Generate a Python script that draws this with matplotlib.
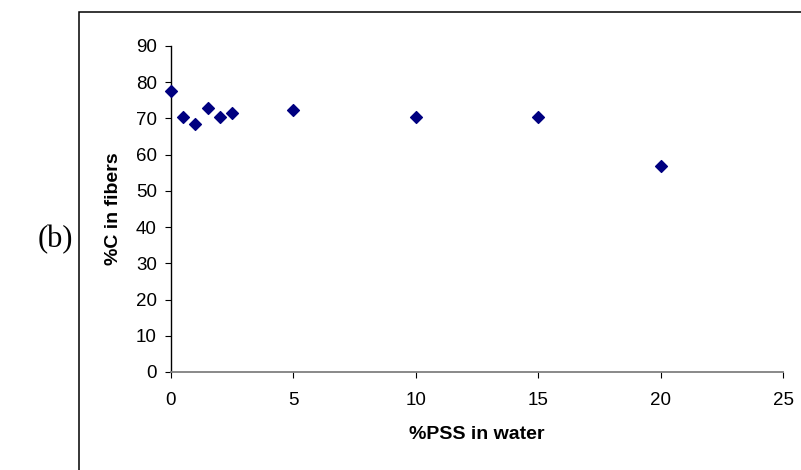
import matplotlib.pyplot as plt
from matplotlib.patches import Rectangle

# %PSS in water vs %C in fibers
pss = [0, 0.5, 1, 1.5, 2, 2.5, 5, 10, 15, 20]
carbon = [77.7, 70.3, 68.6, 73.0, 70.3, 71.6, 72.4, 70.3, 70.3, 57.0]
xticks = [0, 5, 10, 15, 20, 25]
yticks = [0, 10, 20, 30, 40, 50, 60, 70, 80, 90]

fig = plt.figure(figsize=(8.01, 4.70), dpi=100)
ax = fig.add_axes([171 / 801, 1 - 372 / 470, (783 - 171) / 801, (372 - 46) / 470])

ax.scatter(pss, carbon, marker='D', s=6.0 ** 2, color='#000080', zorder=3, clip_on=False)

ax.set_xlim(0, 25)
ax.set_ylim(0, 90)
ax.set_xticks(xticks)
ax.set_yticks(yticks)

for side in ['top', 'right']:
    ax.spines[side].set_visible(False)
ax.spines['left'].set_color('black')
ax.spines['left'].set_linewidth(1.0)
ax.spines['bottom'].set_color('#808080')
ax.spines['bottom'].set_linewidth(1.3)

ax.tick_params(axis='y', direction='out', length=4.3, width=0.8, pad=5.8,
               labelsize=13.5, colors='black')
ax.tick_params(axis='x', direction='out', length=4.3, width=0.8, pad=10,
               labelsize=13.5, colors='black')
for lbl in ax.get_xticklabels() + ax.get_yticklabels():
    lbl.set_fontfamily('Liberation Sans')

ax.set_xlabel('%PSS in water', fontsize=14, fontweight='bold',
              fontfamily='Liberation Sans', labelpad=12)
ax.set_ylabel('%C in fibers', fontsize=14, fontweight='bold',
              fontfamily='Liberation Sans', labelpad=10)

# outer frame (runs off the right and bottom edges)
fig.patches.append(Rectangle((79 / 801, -0.2), 1.0, 1.2 - 12 / 470,
                             transform=fig.transFigure, fill=False,
                             edgecolor='black', linewidth=1.1))

fig.text(55 / 801, 1 - 240 / 470, '(b)', fontsize=22, fontfamily='Liberation Serif',
         ha='center', va='center')

fig.savefig('out.png', dpi=100)
